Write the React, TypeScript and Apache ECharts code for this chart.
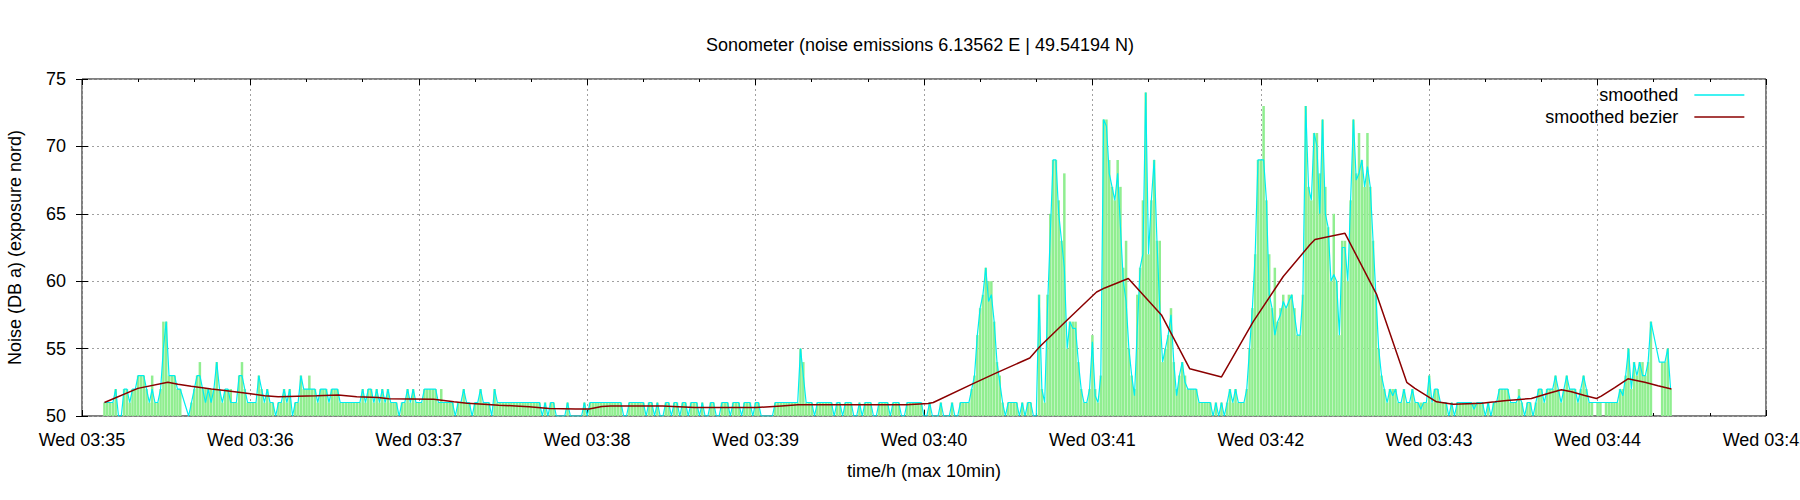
import React, { useEffect, useRef } from "react";
import * as echarts from "echarts";

const TITLE = "Sonometer (noise emissions 6.13562 E | 49.54194 N)";
const X_NAME = "time/h (max 10min)";
const Y_NAME = "Noise (DB a) (exposure nord)";
const LEGEND_NAMES = ["smoothed", "smoothed bezier"];
const X_TICK_LABELS = [
  "Wed 03:35", "Wed 03:36", "Wed 03:37", "Wed 03:38", "Wed 03:39", "Wed 03:40",
  "Wed 03:41", "Wed 03:42", "Wed 03:43", "Wed 03:44", "Wed 03:45",
];

// seconds after 03:35:00 of the first sample
const START_SEC = 8;

// raw readings (one per second, null = no sample)
const rawDb = [
  51, 51, 51, 51, 52, 50, 50, 52, 52, 51,
  52, 52, 53, 53, 53, 52, 51, 53, 51, 51,
  52, 57, 57, 53, 53, 53, 52, 52, null, null,
  50, 51, 52, 53, 54, 52, 52, 52, 52, 52,
  54, 52, 51, 52, 52, 52, 51, 51, 53, 54,
  52, 51, 51, 51, 51, 53, 52, 51, 52, 51,
  51, 50, 51, 51, 52, 51, 52, 50, 51, 51,
  53, 52, 52, 53, 52, 52, 51, 52, 52, 52,
  51, 52, 52, 52, 51, 51, 51, 51, 51, 51,
  51, 51, 52, 51, 52, 52, 51, 52, 51, 52,
  51, 52, 51, 51, 51, 50, 51, 51, 52, 51,
  52, 51, 51, 51, 52, 52, 52, 52, 52, 51,
  52, 51, 51, 51, 51, 50, 51, 51, 52, 51,
  51, 50, 51, 51, 52, 51, 51, 51, 50, 52,
  51, 51, 51, 51, 51, 51, 51, 51, 51, 51,
  51, 51, 51, 51, 51, 51, 50, 51, 50, 51,
  51, 50, 50, 50, 50, 51, 50, 50, 50, 50,
  50, 51, 50, 51, 51, 51, 51, 51, 51, 51,
  51, 51, 51, 51, 51, 50, 50, 51, 51, 51,
  51, 51, 51, 50, 51, 51, 50, 51, 50, 50,
  51, 51, 50, 51, 51, 50, 51, 51, 50, 51,
  51, 51, 50, 51, 50, 50, 51, 51, 50, 50,
  51, 51, 51, 50, 51, 51, 51, 50, 51, 51,
  51, 50, 51, 51, 50, 50, 50, 50, 50, 51,
  51, 51, 51, 51, 51, 51, 51, 51, 55, 54,
  51, 51, 51, 50, 51, 51, 51, 51, 51, 51,
  50, 51, 51, 50, 51, 51, 51, 50, 50, 51,
  50, 51, 51, 51, 50, 50, 51, 51, 51, 51,
  50, 51, 51, 51, 50, 50, 51, 51, 51, 51,
  51, 51, 50, 50, 51, 50, 50, 50, 51, 50,
  50, 50, 51, 50, 50, 51, 51, 51, 51, 52,
  53, 56, 58, 59, 61, 60, 60, 57, 54, 53,
  51, 50, 51, 51, 51, 51, 50, 51, 50, 51,
  51, 50, 50, 59, 52, 51, 59, 65, 69, 69,
  66, 63, 68, 55, 57, 57, 57, 54, 52, 51,
  51, 52, 56, 52, 51, 53, 72, 72, 69, 67,
  66, 69, 67, 61, 63, 55, 53, 52, 59, 61,
  66, 74, 62, 66, 69, 63, 63, 54, 55, 56,
  58, 54, 52, 53, 54, 53, 52, 52, 52, 52,
  51, 51, 51, 51, 51, 50, 51, 50, 51, 50,
  51, 52, 51, 52, 51, 51, 51, 52, 55, 58,
  62, 69, 69, 73, 66, 62, 58, 61, 57, 58,
  59, 58, 59, 59, 58, 56, 56, 59, 73, 67,
  66, 71, 71, 68, 72, 67, 64, 60, 65, 60,
  56, 63, 63, 60, 66, 72, 68, 71, 69, 67,
  71, 67, 63, 59, 55, 53, 52, 51, 52, 52,
  52, 51, 51, 52, 51, 51, 52, 51, 51, 51,
  51, 51, 53, 51, 52, 52, 51, 51, 51, 50,
  51, 50, 51, 51, 51, 51, 51, 51, 51, 51,
  51, 51, 50, 51, 50, 51, 51, 52, 52, 52,
  52, 51, 51, 51, 52, 51, 50, 51, 51, 50,
  51, 52, 52, 51, 52, 52, 52, 53, 52, 51,
  52, 53, 52, 52, 52, 51, 52, 53, 52, 51,
  51, null, 51, 51, null, 51, 51, 51, 51, 51,
  52, 52, 53, 55, 52, 54, 53, 54, 54, 53,
  54, 57, null, null, null, 54, 54, 55, 52,
];

// smoothed curve (cyan), same seconds as rawDb
const smoothedDb = [
  51, 51, 51, 51, 52, 50, 50, 52, 52, 51,
  52, 52, 53, 53, 53, 52, 51, 52, 51, 51,
  52, 55, 57, 53, 53, 53, 52, 52, null, null,
  50, 51, 52, 53, 53, 52, 51, 52, 51, 52,
  54, 52, 51, 52, 52, 51, 51, 51, 53, 53,
  52, 51, 51, 51, 51, 53, 52, 51, 52, 51,
  51, 50, 51, 51, 52, 51, 52, 50, 51, 51,
  53, 52, 52, 52, 52, 52, 51, 52, 52, 52,
  51, 52, 52, 52, 51, 51, 51, 51, 51, 51,
  51, 51, 52, 51, 52, 52, 51, 52, 51, 52,
  51, 52, 51, 51, 51, 50, 51, 51, 52, 51,
  52, 51, 51, 51, 52, 52, 52, 52, 52, 51,
  51, 51, 51, 51, 51, 50, 51, 51, 52, 51,
  51, 50, 51, 51, 52, 51, 51, 51, 50, 52,
  51, 51, 51, 51, 51, 51, 51, 51, 51, 51,
  51, 51, 51, 51, 51, 51, 50, 51, 50, 51,
  51, 50, 50, 50, 50, 51, 50, 50, 50, 50,
  50, 51, 50, 51, 51, 51, 51, 51, 51, 51,
  51, 51, 51, 51, 51, 50, 50, 51, 51, 51,
  51, 51, 51, 50, 51, 51, 50, 51, 50, 50,
  51, 51, 50, 51, 51, 50, 51, 51, 50, 51,
  51, 51, 50, 51, 50, 50, 51, 51, 50, 50,
  51, 51, 51, 50, 51, 51, 51, 50, 51, 51,
  51, 50, 51, 51, 50, 50, 50, 50, 50, 51,
  51, 51, 51, 51, 51, 51, 51, 51, 55, 53,
  51, 51, 51, 50, 51, 51, 51, 51, 51, 51,
  50, 51, 51, 50, 51, 51, 51, 50, 50, 51,
  50, 51, 51, 51, 50, 50, 51, 51, 51, 51,
  50, 51, 51, 51, 50, 50, 51, 51, 51, 51,
  51, 51, 50, 50, 51, 50, 50, 50, 51, 50,
  50, 50, 51, 50, 50, 51, 51, 51, 51, 52,
  53, 56, 58, 59, 61, 58.5, 59, 57, 54, 52.5,
  51, 50, 51, 51, 51, 51, 50, 51, 50, 51,
  51, 50, 50, 59, 52, 51, 58, 63.5, 69, 69,
  65, 63, 61, 55, 57, 56.5, 56.5, 54, 52, 51,
  51, 52, 55.5, 51.5, 51, 53, 72, 71.5, 68, 67,
  66, 68, 64, 60, 58.5, 55, 53, 51.5, 56.5, 61,
  62, 74, 62, 66, 69, 63, 58, 54, 55, 56,
  57.5, 54, 51.5, 53, 54, 52.5, 52, 52, 52, 52,
  51, 51, 51, 51, 51, 50, 51, 50, 51, 50,
  51, 52, 51, 52, 51, 51, 51, 52, 55, 58,
  62, 69, 69, 69, 66, 59, 58, 56, 57, 57.5,
  58.5, 58, 58.5, 59, 57.5, 56, 56, 59, 73, 67,
  66, 71, 70, 65, 72, 65, 64, 60, 60.5, 60,
  56, 62.5, 62.5, 60, 66, 72, 67.5, 68, 69, 67,
  68.5, 67, 63, 59, 55, 53, 52, 51, 52, 51.5,
  52, 51, 51, 52, 51, 51, 52, 51, 51, 50.5,
  51, 51, 53, 51, 52, 52, 51, 51, 51, 50,
  51, 50, 51, 51, 51, 51, 51, 51, 50.5, 51,
  51, 51, 50, 51, 50, 51, 51, 52, 52, 52,
  52, 51, 51, 51, 51.5, 51, 50, 51, 51, 50,
  51, 52, 52, 51, 52, 52, 52, 53, 52, 51,
  52, 53, 52, 52, 52, 51, 52, 53, 52, 51,
  51, null, 51, 51, null, 51, 51, 51, 51, 51,
  52, 51.5, 53, 55, 52, 54, 53, 54, 53, 53,
  54, 57, 56, 55, 54, 54, 54, 55, 52,
];

// smoothed bezier curve (dark red): time in seconds after 03:35 and level
const bezierSec = [
  8, 19.9, 30.6, 34.2, 38.9, 46.1, 50.8, 58, 65.1, 69.9, 83.6, 91.3, 97.9,
  105.6, 109.3, 125.3, 132.5, 137.2, 143.2, 148.5, 154.5, 159.3, 166.4, 175.9,
  180.7, 185.2, 188.4, 206.9, 218.2, 240.2, 249.2, 255.1, 274.2, 293.8, 301.5,
  303.3, 317.5, 325.8, 337.7, 341.3, 351.4, 359.7, 361.5, 364.4, 372.8, 384.6,
  394.7, 406, 417.3, 428, 437.5, 439.3, 450, 461.3, 472, 474.9, 482.6, 488.6,
  498.7, 503.4, 507.6, 516.4, 522.3, 527.1, 530.7, 535.4, 539.6, 541.3, 546.1,
  550.8, 556.8, 561.5, 566.3,
];
const bezierDb = [
  51.0, 52.05, 52.5, 52.35, 52.2, 52.0, 51.9, 51.7, 51.5, 51.43, 51.5, 51.55, 51.43,
  51.38, 51.28, 51.25, 51.05, 50.95, 50.88, 50.8, 50.75, 50.68, 50.55, 50.52,
  50.52, 50.7, 50.75, 50.75, 50.63, 50.63, 50.75, 50.83, 50.83, 50.83, 50.93,
  51.0, 52.4, 53.2, 54.3, 55.15, 57.2, 58.85, 59.2, 59.5, 60.2, 57.5,
  53.5, 52.9, 57.0, 60.35, 62.7, 63.1, 63.55, 59.0, 52.5, 52.05, 51.05, 50.87,
  50.95, 51.05, 51.15, 51.3, 51.67, 51.95, 51.8, 51.52, 51.3, 51.47, 52.1,
  52.76, 52.5, 52.24, 52.0,
];

const FONT = "'Liberation Sans', Arial, Helvetica, sans-serif";

export default function App() {
  const ref = useRef<HTMLDivElement>(null);

  useEffect(() => {
    document.body.style.margin = "0";
    const chart = echarts.init(ref.current as HTMLDivElement, null, { renderer: "svg" });

    const rawPoints = rawDb.map((v, i) => [START_SEC + i, v]);
    const smoothPoints = smoothedDb.map((v, i) => [START_SEC + i, v]);
    const bezierPoints = bezierSec.map((s, i) => [s, bezierDb[i]]);

    const tick = { show: true, inside: true, length: 6, lineStyle: { color: "#000", width: 1 } };
    const minor = { show: true, splitNumber: 3, length: 3, lineStyle: { color: "#000", width: 1 } };
    const grid = { show: true, lineStyle: { color: "#a0a0a0", width: 1, type: [2, 3] } };

    chart.setOption({
      animation: false,
      backgroundColor: "#ffffff",
      textStyle: { fontFamily: FONT },
      title: {
        text: TITLE,
        left: 920,
        top: 36,
        textAlign: "center",
        padding: 0,
        textStyle: { fontSize: 18, fontWeight: "normal", color: "#000", fontFamily: FONT },
      },
      legend: {
        data: LEGEND_NAMES,
        orient: "vertical",
        align: "right",
        right: 55,
        top: 86,
        padding: 0,
        itemWidth: 50,
        itemHeight: 18,
        itemGap: 4,
        selectedMode: false,
        itemStyle: { opacity: 0 },
        lineStyle: { width: 1.3 },
        textStyle: { fontSize: 18, color: "#000", fontFamily: FONT, padding: [0, 11, 0, 0] },
      },
      grid: {
        left: 82,
        right: 34,
        top: 79,
        bottom: 84,
        show: true,
        borderColor: "#000",
        borderWidth: 1,
        backgroundColor: "transparent",
        containLabel: false,
        outerBoundsMode: "none",
      },
      xAxis: [
        {
          type: "value",
          position: "bottom",
          min: 0,
          max: 600,
          interval: 60,
          axisLine: { show: false },
          axisTick: tick,
          minorTick: minor,
          axisLabel: {
            fontSize: 18,
            color: "#000",
            margin: 15,
            fontFamily: FONT,
            showMinLabel: true,
            showMaxLabel: true,
            hideOverlap: false,
            formatter: (v: number) => X_TICK_LABELS[Math.round(v / 60)] ?? "",
          },
          splitLine: grid,
          minorSplitLine: { show: false },
          name: X_NAME,
          nameLocation: "middle",
          nameGap: 46,
          nameTextStyle: { fontSize: 18, color: "#000", fontFamily: FONT },
        },
        {
          type: "value",
          position: "top",
          min: 0,
          max: 600,
          interval: 60,
          axisLine: { show: false },
          axisTick: tick,
          minorTick: minor,
          axisLabel: { show: false },
          splitLine: { show: false },
        },
      ],
      yAxis: [
        {
          type: "value",
          position: "left",
          min: 50,
          max: 75,
          interval: 5,
          axisLine: { show: false },
          axisTick: tick,
          axisLabel: { fontSize: 18, color: "#000", margin: 16, fontFamily: FONT },
          splitLine: grid,
          name: Y_NAME,
          nameLocation: "middle",
          nameGap: 58,
          nameRotate: 90,
          nameTextStyle: { fontSize: 18, color: "#000", fontFamily: FONT },
        },
        {
          type: "value",
          position: "right",
          min: 50,
          max: 75,
          interval: 5,
          axisLine: { show: false },
          axisTick: tick,
          axisLabel: { show: false },
          splitLine: { show: false },
        },
      ],
      series: [
        {
          name: "raw",
          type: "bar",
          data: rawPoints,
          barWidth: 2.5,
          silent: true,
          itemStyle: { color: "#90ee90" },
          z: 1,
        },
        {
          name: "smoothed",
          type: "line",
          data: smoothPoints,
          symbol: "none",
          connectNulls: true,
          silent: true,
          itemStyle: { color: "#00eeee" },
          lineStyle: { color: "#00eeee", width: 1.2 },
          z: 2,
        },
        {
          name: "smoothed bezier",
          type: "line",
          data: bezierPoints,
          symbol: "none",
          silent: true,
          itemStyle: { color: "#8b0000" },
          lineStyle: { color: "#8b0000", width: 1.5 },
          z: 3,
        },
      ],
    });

    return () => chart.dispose();
  }, []);

  return <div ref={ref} style={{ width: 1800, height: 500 }} />;
}
